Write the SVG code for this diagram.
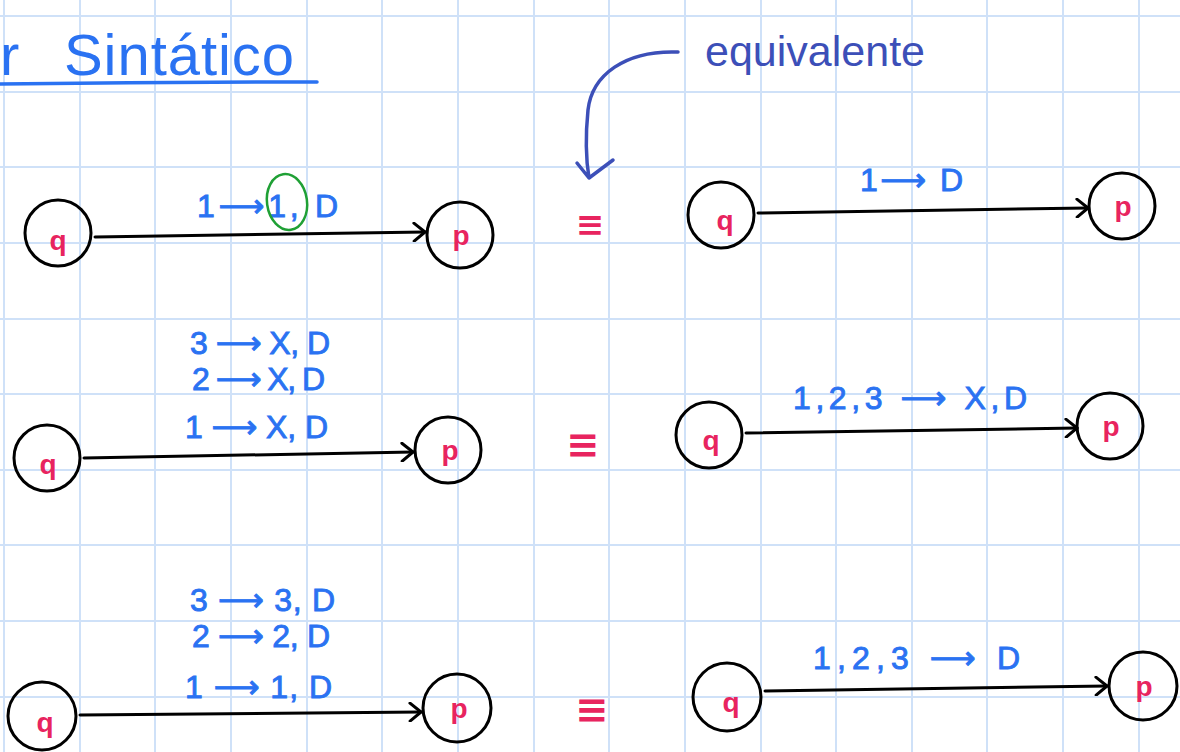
<svg xmlns="http://www.w3.org/2000/svg" width="1180" height="752" viewBox="0 0 1180 752">
<style>
.grid{stroke:#cfe1f8;stroke-width:2;fill:none}
.node{fill:none;stroke:#000;stroke-width:3}
.st{font-family:"Liberation Sans","DejaVu Sans",sans-serif;font-size:28px;font-weight:bold;fill:#e8245f;text-anchor:middle}
.lbl{font-family:"Liberation Sans","DejaVu Sans",sans-serif;font-size:32px;fill:#2a72f2;stroke:#2a72f2;stroke-width:0.9}
.eq{font-family:"DejaVu Sans",sans-serif;font-weight:bold;fill:#e8245f;text-anchor:middle}
.edge{stroke:#000;stroke-width:3;fill:none;stroke-linecap:round;marker-end:url(#chev)}
</style>
<defs>
<marker id="chev" viewBox="-14 -10 16 20" refX="0" refY="0" markerWidth="16" markerHeight="20" markerUnits="userSpaceOnUse" orient="auto">
<path d="M-11,-9 L0,0 L-11,9" fill="none" stroke="#000" stroke-width="3" stroke-linecap="round" stroke-linejoin="round"/>
</marker>
</defs>
<rect width="1180" height="752" fill="#fff"/>
<path class="grid" d="M4,0V752M80,0V752M155,0V752M231,0V752M307,0V752M382,0V752M458,0V752M534,0V752M609,0V752M685,0V752M761,0V752M836,0V752M912,0V752M987,0V752M1063,0V752M1139,0V752M0,16H1180M0,92H1180M0,167H1180M0,243H1180M0,319H1180M0,394H1180M0,470H1180M0,545H1180M0,621H1180M0,697H1180"/>
<g id="title">
<text font-family="Liberation Sans, sans-serif" font-size="58" fill="#2a72f2" y="75"><tspan x="0">r</tspan><tspan x="64" textLength="236" lengthAdjust="spacing" letter-spacing="6">Sintático</tspan></text>
<path d="M0,84 Q160,82 317,82" stroke="#2a72f2" stroke-width="3.5" fill="none" stroke-linecap="round"/>
</g>
<g id="note">
<text x="705" y="66" font-family="Liberation Sans, sans-serif" font-size="42" fill="#3c4fb8" textLength="220" lengthAdjust="spacingAndGlyphs">equivalente</text>
<path d="M678,52 C625,50 592,75 588,110 C585,140 586,160 589,178 M577,163 L589,178 L613,160" stroke="#3c4fb8" stroke-width="3.5" fill="none" stroke-linecap="round" stroke-linejoin="round"/>
</g>
<g id="connectors">
<path class="edge" d="M95,237 L425,232"/>
<path class="edge" d="M758,213 L1088,208"/>
<path class="edge" d="M84,458 L413,452"/>
<path class="edge" d="M746,433 L1077,428"/>
<path class="edge" d="M80,715 L421,712"/>
<path class="edge" d="M765,691 L1107,686"/>
</g>
<g id="labels">
<text class="lbl" x="197" y="217" textLength="141">1⟶1, D</text>
<ellipse cx="287" cy="202" rx="20" ry="28" fill="none" stroke="#1fa035" stroke-width="2.5" transform="rotate(-8 287 202)"/>
<text class="lbl" x="860" y="191" textLength="103">1⟶ D</text>
<text class="lbl" x="190" y="354" textLength="140">3 ⟶ X, D</text>
<text class="lbl" x="192" y="390" textLength="133">2 ⟶ X, D</text>
<text class="lbl" x="185" y="438" textLength="143">1 ⟶ X, D</text>
<text class="lbl" x="793" y="409" textLength="234">1,2,3 ⟶ X,D</text>
<text class="lbl" x="190" y="611" textLength="145">3 ⟶ 3, D</text>
<text class="lbl" x="192" y="647" textLength="138">2 ⟶ 2, D</text>
<text class="lbl" x="185" y="698" textLength="147">1 ⟶ 1, D</text>
<text class="lbl" x="813" y="669" textLength="207">1,2,3 ⟶ D</text>
<text class="eq" x="590" y="236" font-size="34">≡</text>
<text class="eq" x="583" y="458" font-size="40">≡</text>
<text class="eq" x="592" y="723" font-size="40">≡</text>
</g>
<g id="q1"><circle class="node" cx="58" cy="233" r="33"/><text class="st" x="58" y="250">q</text></g>
<g id="p1"><circle class="node" cx="460" cy="235" r="33"/><text class="st" x="461" y="245">p</text></g>
<g id="q1b"><circle class="node" cx="721" cy="215" r="33"/><text class="st" x="725" y="230">q</text></g>
<g id="p1b"><circle class="node" cx="1122" cy="206" r="33"/><text class="st" x="1123" y="216">p</text></g>
<g id="q2"><circle class="node" cx="47" cy="458" r="33"/><text class="st" x="48" y="474">q</text></g>
<g id="p2"><circle class="node" cx="448" cy="450" r="33"/><text class="st" x="450" y="460">p</text></g>
<g id="q2b"><circle class="node" cx="709" cy="435" r="33"/><text class="st" x="711" y="450">q</text></g>
<g id="p2b"><circle class="node" cx="1110" cy="426" r="33"/><text class="st" x="1111" y="436">p</text></g>
<g id="q3"><circle class="node" cx="42" cy="716" r="34"/><text class="st" x="45" y="732">q</text></g>
<g id="p3"><circle class="node" cx="457" cy="708" r="34"/><text class="st" x="459" y="718">p</text></g>
<g id="q3b"><circle class="node" cx="727" cy="697" r="34"/><text class="st" x="731" y="712">q</text></g>
<g id="p3b"><circle class="node" cx="1143" cy="686" r="34"/><text class="st" x="1144" y="696">p</text></g>
</svg>
